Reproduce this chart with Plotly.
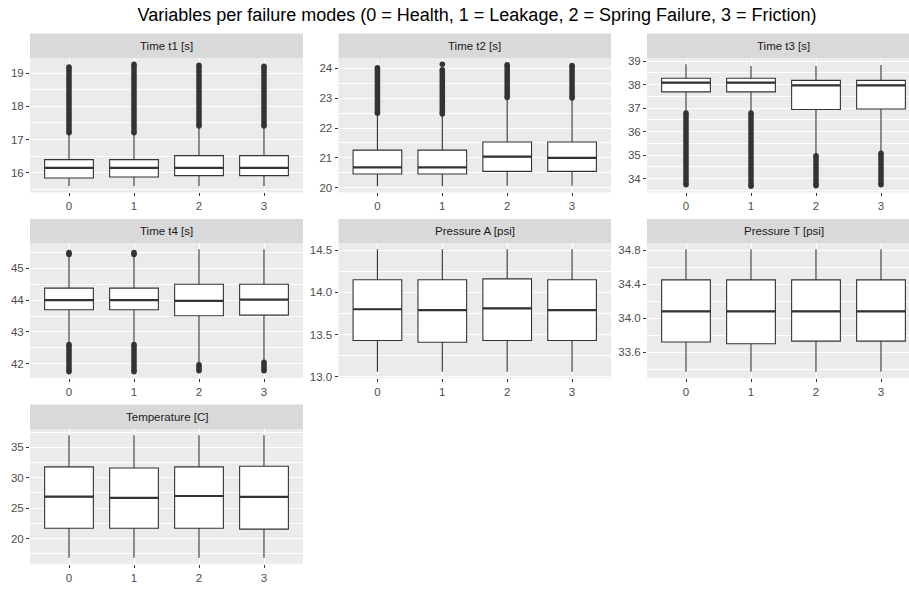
import plotly.graph_objects as go

W, H = 909, 590

MODES = [0, 1, 2, 3]
MODE_LABELS = ["0", "1", "2", "3"]

TITLE = "Variables per failure modes (0 = Health, 1 = Leakage, 2 = Spring Failure, 3 = Friction)"
PANEL_TITLES = ["Time t1 [s]", "Time t2 [s]", "Time t3 [s]", "Time t4 [s]",
                "Pressure A [psi]", "Pressure T [psi]", "Temperature [C]"]

# ---- Time t1 [s]
T1_LOWER = [15.60, 15.60, 15.60, 15.60]
T1_Q1 = [15.85, 15.88, 15.92, 15.92]
T1_MEDIAN = [16.15, 16.15, 16.15, 16.15]
T1_Q3 = [16.40, 16.40, 16.52, 16.52]
T1_UPPER = [17.21, 17.21, 17.41, 17.41]
T1_OUT_HIGH_FROM = [17.21, 17.21, 17.41, 17.41]
T1_OUT_HIGH_TO = [19.18, 19.26, 19.23, 19.20]

# ---- Time t2 [s]
T2_LOWER = [20.05, 20.05, 20.07, 20.07]
T2_Q1 = [20.46, 20.46, 20.55, 20.55]
T2_MEDIAN = [20.68, 20.68, 21.04, 21.00]
T2_Q3 = [21.26, 21.26, 21.53, 21.53]
T2_UPPER = [22.49, 22.47, 23.02, 23.00]
T2_OUT_HIGH_FROM = [22.49, 22.47, 23.02, 23.00]
T2_OUT_HIGH_TO = [24.02, 23.95, 24.12, 24.09]
T2_OUT_SINGLE = [None, 24.13, None, None]

# ---- Time t3 [s]
T3_LOWER = [36.79, 36.79, 34.98, 35.08]
T3_Q1 = [37.69, 37.69, 36.94, 36.96]
T3_MEDIAN = [38.08, 38.08, 37.97, 37.97]
T3_Q3 = [38.27, 38.27, 38.18, 38.18]
T3_UPPER = [38.86, 38.79, 38.79, 38.83]
T3_OUT_LOW_FROM = [36.79, 36.79, 34.98, 35.08]
T3_OUT_LOW_TO = [33.75, 33.68, 33.70, 33.75]

# ---- Time t4 [s]
T4_LOWER = [42.61, 42.61, 41.97, 42.05]
T4_Q1 = [43.70, 43.70, 43.51, 43.53]
T4_MEDIAN = [44.00, 44.00, 43.98, 44.02]
T4_Q3 = [44.38, 44.38, 44.50, 44.50]
T4_UPPER = [45.44, 45.44, 45.60, 45.60]
T4_OUT_HIGH_FROM = [45.44, 45.44, None, None]
T4_OUT_HIGH_TO = [45.50, 45.50, None, None]
T4_OUT_LOW_FROM = [42.61, 42.61, 41.97, 42.05]
T4_OUT_LOW_TO = [41.75, 41.75, 41.78, 41.78]

# ---- Pressure A [psi]
PA_LOWER = [13.06, 13.06, 13.06, 13.06]
PA_Q1 = [13.43, 13.41, 13.43, 13.43]
PA_MEDIAN = [13.80, 13.79, 13.81, 13.79]
PA_Q3 = [14.15, 14.15, 14.16, 14.15]
PA_UPPER = [14.51, 14.51, 14.51, 14.51]

# ---- Pressure T [psi]
PT_LOWER = [33.37, 33.37, 33.37, 33.37]
PT_Q1 = [33.72, 33.70, 33.73, 33.73]
PT_MEDIAN = [34.08, 34.08, 34.08, 34.08]
PT_Q3 = [34.45, 34.45, 34.45, 34.45]
PT_UPPER = [34.81, 34.81, 34.81, 34.81]

# ---- Temperature [C]
TEMP_LOWER = [16.85, 16.85, 16.85, 16.85]
TEMP_Q1 = [21.70, 21.70, 21.70, 21.55]
TEMP_MEDIAN = [26.90, 26.70, 27.00, 26.85]
TEMP_Q3 = [31.80, 31.60, 31.80, 31.90]
TEMP_UPPER = [37.00, 37.00, 37.00, 37.00]

# panel table built from the arrays above
PANELS = [
    dict(stats=(T1_LOWER, T1_Q1, T1_MEDIAN, T1_Q3, T1_UPPER),
         bands=[(T1_OUT_HIGH_FROM, T1_OUT_HIGH_TO)], single=None, dtick=1, fmt=".0f"),
    dict(stats=(T2_LOWER, T2_Q1, T2_MEDIAN, T2_Q3, T2_UPPER),
         bands=[(T2_OUT_HIGH_FROM, T2_OUT_HIGH_TO)], single=T2_OUT_SINGLE, dtick=1, fmt=".0f"),
    dict(stats=(T3_LOWER, T3_Q1, T3_MEDIAN, T3_Q3, T3_UPPER),
         bands=[(T3_OUT_LOW_FROM, T3_OUT_LOW_TO)], single=None, dtick=1, fmt=".0f"),
    dict(stats=(T4_LOWER, T4_Q1, T4_MEDIAN, T4_Q3, T4_UPPER),
         bands=[(T4_OUT_HIGH_FROM, T4_OUT_HIGH_TO), (T4_OUT_LOW_FROM, T4_OUT_LOW_TO)],
         single=None, dtick=1, fmt=".0f"),
    dict(stats=(PA_LOWER, PA_Q1, PA_MEDIAN, PA_Q3, PA_UPPER),
         bands=[], single=None, dtick=0.5, fmt=".1f"),
    dict(stats=(PT_LOWER, PT_Q1, PT_MEDIAN, PT_Q3, PT_UPPER),
         bands=[], single=None, dtick=0.4, fmt=".1f"),
    dict(stats=(TEMP_LOWER, TEMP_Q1, TEMP_MEDIAN, TEMP_Q3, TEMP_UPPER),
         bands=[], single=None, dtick=5, fmt=".0f"),
]

# layout geometry in pixels
COLS = [(30, 303), (338.5, 611), (647, 920)]
ROWS = [(31, 56, 192), (219, 243.5, 380), (407, 432, 568.5)]  # strip top, panel top, panel bottom
BOX_W = 0.75
INK = "#333333"
FONT = "Liberation Sans, Arial, sans-serif"

fig = go.Figure()
shapes = []
annotations = []

for i, p in enumerate(PANELS):
    r, c = divmod(i, 3)
    n = i + 1
    xa = "x" if n == 1 else f"x{n}"
    ya = "y" if n == 1 else f"y{n}"
    lower, q1, med, q3, upper = p["stats"]

    fig.add_trace(go.Box(
        x=MODES, q1=q1, median=med, q3=q3, lowerfence=lower, upperfence=upper,
        width=BOX_W, fillcolor="white", line=dict(color=INK, width=1.1),
        whiskerwidth=0, boxpoints=False, xaxis=xa, yaxis=ya,
        showlegend=False, hoverinfo="skip", orientation="v"))

    # outliers drawn as dense bands
    for frm, to in p["bands"]:
        bx, by = [], []
        for m, a, b in zip(MODES, frm, to):
            if a is None or b is None:
                continue
            bx += [m, m, None]
            by += [a, b, None]
        fig.add_trace(go.Scatter(
            x=bx, y=by, mode="lines+markers", xaxis=xa, yaxis=ya,
            line=dict(color=INK, width=5.5),
            marker=dict(color=INK, size=5.5), showlegend=False, hoverinfo="skip"))
    if p["single"]:
        sx = [m for m, v in zip(MODES, p["single"]) if v is not None]
        sy = [v for v in p["single"] if v is not None]
        fig.add_trace(go.Scatter(x=sx, y=sy, mode="markers", xaxis=xa, yaxis=ya,
                                 marker=dict(color=INK, size=5.5),
                                 showlegend=False, hoverinfo="skip"))

    # thick median line (ggplot fatten)
    mx, my = [], []
    for m, v in zip(MODES, med):
        mx += [m - BOX_W / 2, m + BOX_W / 2, None]
        my += [v, v, None]
    fig.add_trace(go.Scatter(x=mx, y=my, mode="lines", xaxis=xa, yaxis=ya,
                             line=dict(color=INK, width=2.2),
                             showlegend=False, hoverinfo="skip"))

    # ranges with 5% expansion
    vals = [v for arr in p["stats"] for v in arr]
    for frm, to in p["bands"]:
        vals += [v for v in frm + to if v is not None]
    if p["single"]:
        vals += [v for v in p["single"] if v is not None]
    lo, hi = min(vals), max(vals)
    span = hi - lo
    yr = [lo - 0.05 * span, hi + 0.05 * span]

    x0, x1 = COLS[c]
    st, pt, pb = ROWS[r]
    unit = (x1 - x0) / 4.2
    xr_hi = 3.6 - max(0, x1 - W) / unit
    xd1 = min(x1, W)

    fig.layout[("xaxis" if n == 1 else f"xaxis{n}")] = dict(
        domain=[x0 / W, xd1 / W], anchor=ya, range=[-0.6, xr_hi],
        tickvals=MODES, ticktext=MODE_LABELS, showgrid=True, gridcolor="white",
        gridwidth=1.1, zeroline=False, showline=False, ticks="outside", ticklen=3,
        tickwidth=1, tickcolor=INK, tickfont=dict(family=FONT, size=11.5, color="#4D4D4D"),
        fixedrange=True)
    fig.layout[("yaxis" if n == 1 else f"yaxis{n}")] = dict(
        domain=[1 - pb / H, 1 - pt / H], anchor=xa, range=yr,
        tick0=0, dtick=p["dtick"], tickformat=p["fmt"], showgrid=True,
        gridcolor="white", gridwidth=1.1, zeroline=False, showline=False,
        ticks="outside", ticklen=3, tickwidth=1, tickcolor=INK,
        tickfont=dict(family=FONT, size=11.5, color="#4D4D4D"),
        minor=dict(dtick=p["dtick"] / 2, tick0=0, showgrid=True,
                   gridcolor="white", gridwidth=0.55, ticks=""),
        fixedrange=True)

    # strip
    shapes.append(dict(type="rect", xref="paper", yref="paper",
                       x0=x0 / W, x1=xd1 / W, y0=1 - pt / H, y1=1 - st / H,
                       fillcolor="#D9D9D9", line=dict(width=0), layer="below"))
    annotations.append(dict(text=PANEL_TITLES[i], xref="paper", yref="paper",
                            x=(x0 + x1) / 2 / W, y=1 - (st + pt) / 2 / H,
                            xanchor="center", yanchor="middle", showarrow=False,
                            font=dict(family=FONT, size=11.5, color="#1A1A1A")))

fig.update_layout(
    width=W, height=H, margin=dict(l=0, r=0, t=0, b=0),
    plot_bgcolor="#EBEBEB", paper_bgcolor="white",
    shapes=shapes, annotations=annotations,
    title=dict(text=TITLE, x=477 / W, xanchor="center", y=1 - 15 / H, yanchor="middle",
               font=dict(family=FONT, size=18, color="black")),
    font=dict(family=FONT),
)

fig.write_html("out.html", config={"displayModeBar": False},
               post_script="document.body.style.margin='0';document.body.style.overflow='hidden';")
